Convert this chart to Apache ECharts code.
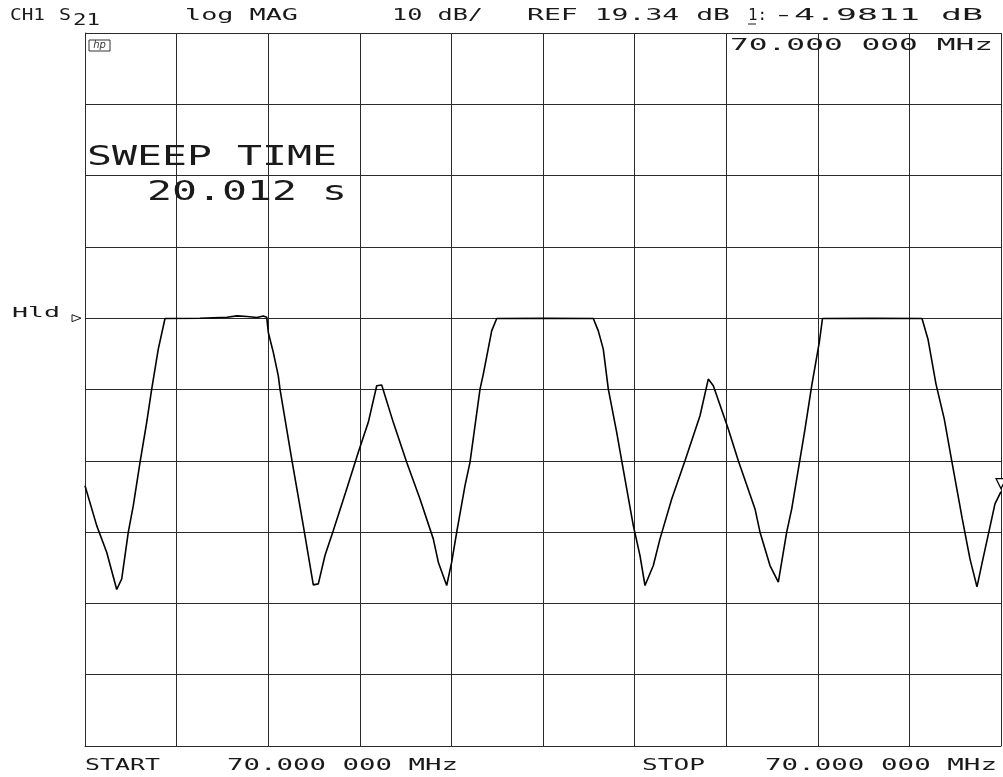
<!DOCTYPE html>
<html><head><meta charset="utf-8">
<script src="https://cdn.jsdelivr.net/npm/echarts@6/dist/echarts.min.js"></script>
<style>html,body{margin:0;padding:0;background:#fff}#c{width:1003px;height:777px}</style>
</head><body><div id="c"></div>
<script>
// ---- instrument settings ----
const SWEEP_TIME_S = 20.012;
const REF_DB = 19.34;
const DB_PER_DIV = 10;
const REF_POS_DIV = 6;      // reference line position, divisions from bottom
const MARKER1_DB = -4.9811;

// ---- trace (time in s, S21 in dB) ----
const TIME_S = [0, 0.256, 0.474, 0.693, 0.802, 0.946, 1.055, 1.202, 1.348, 1.457, 1.601, 1.748, 2.512, 3.102, 3.321, 3.539, 3.758, 3.895, 3.970, 4.005, 4.114, 4.223, 4.260, 4.516, 4.769, 4.988, 5.097, 5.243, 5.425, 5.717, 5.971, 6.189, 6.373, 6.482, 6.735, 7.028, 7.319, 7.609, 7.719, 7.902, 8.011, 8.121, 8.302, 8.411, 8.630, 8.702, 8.885, 8.995, 10.05, 11.105, 11.214, 11.323, 11.433, 11.616, 11.725, 11.979, 12.125, 12.234, 12.416, 12.562, 12.818, 13.108, 13.436, 13.617, 13.727, 14.054, 14.273, 14.638, 14.747, 14.965, 15.147, 15.330, 15.440, 15.621, 15.730, 15.876, 16.042, 16.112, 17.2, 18.286, 18.417, 18.592, 18.773, 18.935, 19.166, 19.334, 19.487, 19.618, 19.771, 19.880, 20.012];
const S21_DB = [-4.15, -9.75, -13.48, -18.71, -17.22, -10.67, -6.95, -0.87, 4.73, 9.40, 15.00, 19.30, 19.34, 19.48, 19.66, 19.58, 19.44, 19.66, 19.48, 17.34, 14.54, 11.26, 9.40, -0.41, -9.75, -18.06, -17.92, -13.95, -10.45, -4.61, 0.53, 4.73, 9.86, 9.96, 4.73, -0.87, -6.01, -11.61, -14.88, -18.15, -14.88, -10.67, -4.15, -0.87, 9.40, 11.50, 17.56, 19.30, 19.34, 19.30, 17.56, 15.00, 9.40, 3.33, -0.65, -9.75, -13.95, -18.15, -15.35, -11.61, -6.01, -0.65, 5.66, 10.80, 9.86, 3.79, -0.65, -7.41, -10.67, -15.35, -17.68, -10.67, -7.41, -0.41, 3.79, 9.86, 15.94, 19.30, 19.34, 19.30, 16.40, 10.10, 5.19, -0.65, -8.81, -14.41, -18.34, -14.41, -9.93, -6.71, -4.9811];

// ---- annotation texts ----
const HEADER_TEXTS = ['CH1', 'S', '21', 'log MAG', '10 dB/', 'REF 19.34 dB', '1:', '-4.9811 dB'];
const MARKER_FREQ_TEXT = '70.000 000 MHz';
const SWEEP_TEXTS = ['SWEEP TIME', '20.012 s'];
const FOOTER_TEXTS = ['START', '70.000 000 MHz', 'STOP', '70.000 000 MHz'];
const HOLD_TEXT = 'Hld';

const Y_MIN = REF_DB - REF_POS_DIV * DB_PER_DIV;
const Y_MAX = REF_DB + (10 - REF_POS_DIV) * DB_PER_DIV;

const chart = echarts.init(document.getElementById('c'), null, {renderer: 'canvas'});
const FONT = '"DejaVu Sans Mono", monospace';
const mctx = document.createElement('canvas').getContext('2d');
function stretched(str, left, right, cy, size) {
  mctx.font = size + 'px ' + FONT;
  const w = mctx.measureText(str).width;
  return {
    type: 'text', x: left, y: cy, scaleX: (right - left) / w, silent: true, z: 10,
    style: {text: str, x: 0, y: 0, fontSize: size, fontFamily: FONT, fill: '#1a1a1a', align: 'left', verticalAlign: 'middle'}
  };
}

const lineCol = '#2a2a2a';
const option = {
  backgroundColor: '#fff',
  animation: false,
  grid: {left: 85, right: 2, top: 33, bottom: 31, containLabel: false},
  xAxis: {
    type: 'value', min: 0, max: SWEEP_TIME_S, interval: SWEEP_TIME_S / 10,
    axisLabel: {show: false}, axisTick: {show: false},
    axisLine: {show: true, onZero: false, lineStyle: {color: lineCol, width: 1}},
    splitLine: {show: true, lineStyle: {color: lineCol, width: 1}}
  },
  yAxis: {
    type: 'value', min: Y_MIN, max: Y_MAX, interval: DB_PER_DIV,
    axisLabel: {show: false}, axisTick: {show: false},
    axisLine: {show: true, onZero: false, lineStyle: {color: lineCol, width: 1}},
    splitLine: {show: true, lineStyle: {color: lineCol, width: 1}}
  },
  series: [{
    type: 'line',
    data: TIME_S.map((t, i) => [t, S21_DB[i]]),
    showSymbol: false, symbol: 'none',
    lineStyle: {color: '#000', width: 1.6},
    clip: true,
    markPoint: {
      silent: true,
      symbol: 'triangle', symbolRotate: 180, symbolSize: [10, 10], symbolOffset: [0, -8],
      itemStyle: {color: '#fff', borderColor: '#000', borderWidth: 1.2},
      label: {show: false},
      data: [{coord: [SWEEP_TIME_S, MARKER1_DB]}]
    }
  }],
  graphic: [
    stretched(HEADER_TEXTS[0], 10, 45, 16, 16),
    stretched(HEADER_TEXTS[1], 59, 71, 16, 16),
    stretched(HEADER_TEXTS[2], 73, 100, 21, 16),
    stretched(HEADER_TEXTS[3], 185, 298, 16, 16),
    stretched(HEADER_TEXTS[4], 392, 483, 16, 16),
    stretched(HEADER_TEXTS[5], 527, 730, 16, 16),
    stretched(HEADER_TEXTS[6], 748, 767, 16, 16),
    {type: 'line', silent: true, shape: {x1: 748, y1: 24, x2: 756, y2: 24}, style: {stroke: '#1a1a1a', lineWidth: 1}},
    stretched(HEADER_TEXTS[7], 773, 983, 16, 16),
    stretched(MARKER_FREQ_TEXT, 730, 993, 46, 16),
    {type: 'rect', silent: true, z: 10, shape: {x: 89, y: 40, width: 21, height: 11}, style: {fill: '#fff', stroke: '#333', lineWidth: 1}},
    {type: 'text', silent: true, z: 11, x: 99.5, y: 45.5, style: {text: 'hp', fontSize: 10, fontStyle: 'italic', fontFamily: 'DejaVu Sans', fill: '#333', align: 'center', verticalAlign: 'middle'}},
    stretched(SWEEP_TEXTS[0], 87, 337, 158, 26),
    stretched(SWEEP_TEXTS[1], 147, 347, 193, 26),
    stretched(FOOTER_TEXTS[0], 85, 160, 766, 15),
    stretched(FOOTER_TEXTS[1], 227, 458, 766, 15),
    stretched(FOOTER_TEXTS[2], 642, 705, 766, 15),
    stretched(FOOTER_TEXTS[3], 765, 997, 766, 15),
    stretched(HOLD_TEXT, 12, 60, 313, 14)
  ]
};
chart.setOption(option);

// reference-position indicator on the left edge
const refPx = chart.convertToPixel({gridIndex: 0}, [0, REF_DB]);
chart.setOption({graphic: option.graphic.concat([{
  type: 'polygon', silent: true, z: 10,
  shape: {points: [[refPx[0] - 13, refPx[1] - 3.5], [refPx[0] - 13, refPx[1] + 3.5], [refPx[0] - 4, refPx[1]]]},
  style: {fill: '#fff', stroke: '#1a1a1a', lineWidth: 1}
}])});
</script>
</body></html>
